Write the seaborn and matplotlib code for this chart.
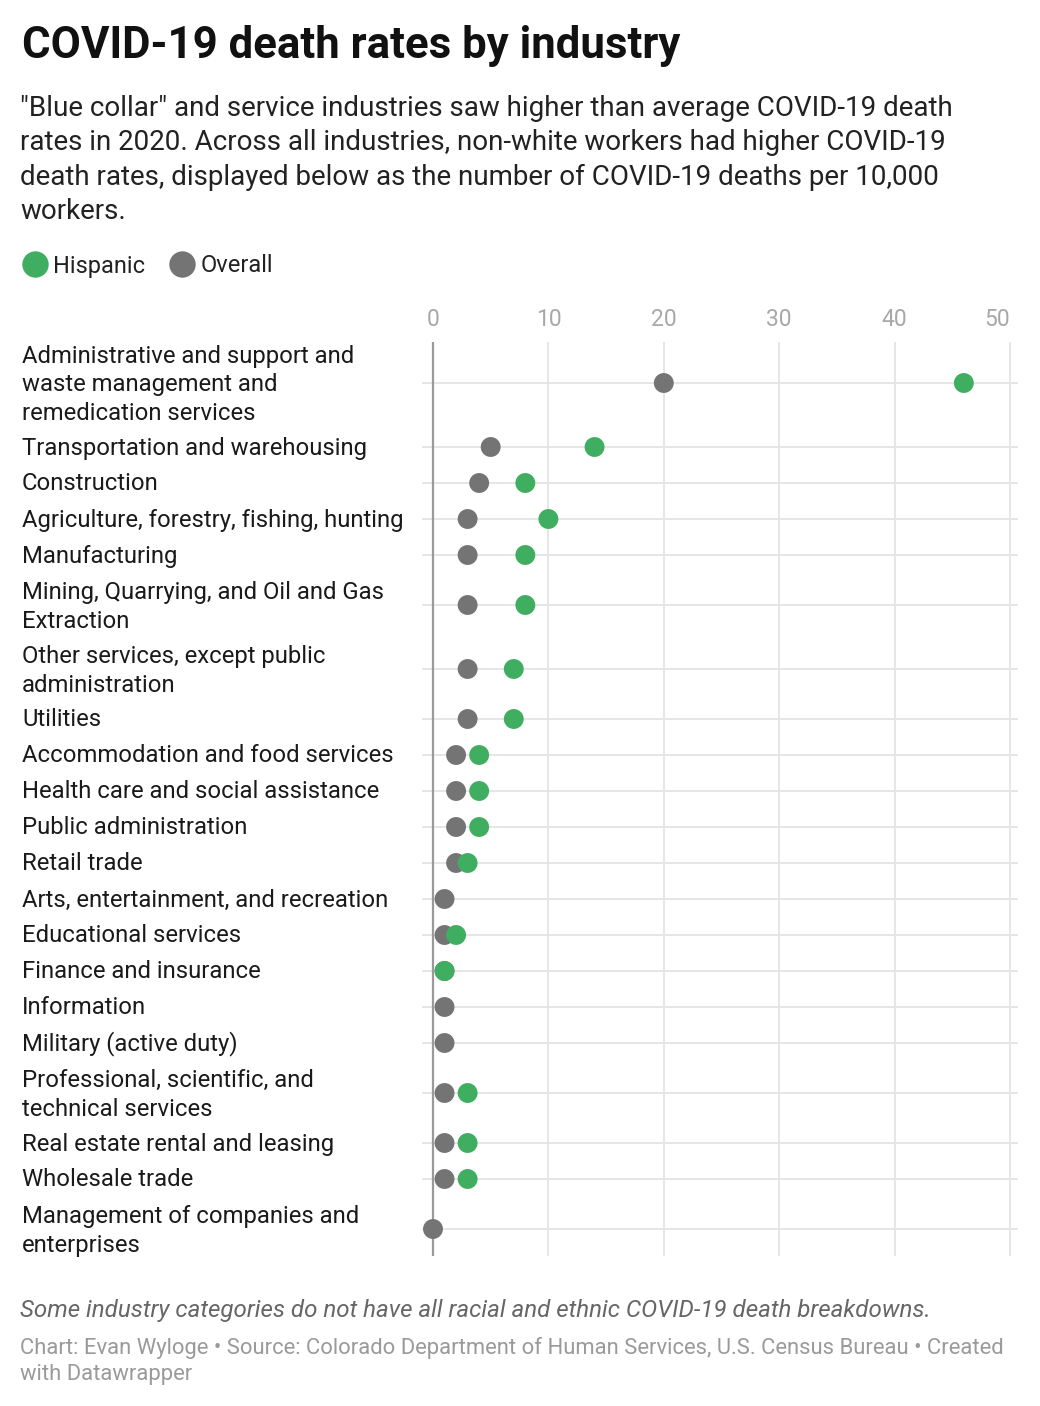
import numpy as np
import pandas as pd
import matplotlib
matplotlib.use("Agg")
import matplotlib.pyplot as plt
import seaborn as sns

# ---------------------------------------------------
# Datos
# ---------------------------------------------------
industries = [
    "Administrative and support and\nwaste management and\nremedication services",
    "Transportation and warehousing",
    "Construction",
    "Agriculture, forestry, fishing, hunting",
    "Manufacturing",
    "Mining, Quarrying, and Oil and Gas\nExtraction",
    "Other services, except public\nadministration",
    "Utilities",
    "Accommodation and food services",
    "Health care and social assistance",
    "Public administration",
    "Retail trade",
    "Arts, entertainment, and recreation",
    "Educational services",
    "Finance and insurance",
    "Information",
    "Military (active duty)",
    "Professional, scientific, and\ntechnical services",
    "Real estate rental and leasing",
    "Wholesale trade",
    "Management of companies and\nenterprises",
]
overall = [20, 5, 4, 3, 3, 3, 3, 3, 2, 2, 2, 2, 1, 1, 1, 1, 1, 1, 1, 1, 0]
hispanic = [46, 14, 8, 10, 8, 8, 7, 7, 4, 4, 4, 3, np.nan, 2, 1,
            np.nan, np.nan, 3, 3, 3, np.nan]
groups = ["Hispanic", "Overall"]
x_ticks = [0, 10, 20, 30, 40, 50]

GREEN = "#3fae60"
GRAY = "#747474"

# ---------------------------------------------------
# Posición vertical de cada fila según el número de líneas de la etiqueta
# ---------------------------------------------------
n_lines = [s.count("\n") + 1 for s in industries]
heights = [36 + 28 * (n - 1) for n in n_lines]
tops = np.cumsum([0] + heights[:-1])
centers = tops + np.array(heights) / 2

# formato largo: primero Overall para que Hispanic quede encima
df = pd.concat([
    pd.DataFrame({"industry": industries, "pos": centers, "rate": overall, "group": "Overall"}),
    pd.DataFrame({"industry": industries, "pos": centers, "rate": hispanic, "group": "Hispanic"}),
], ignore_index=True).dropna()

sns.set_theme(style="white")
plt.rcParams["font.family"] = ["Roboto", "DejaVu Sans"]

W, H = 1040, 1406
fig = plt.figure(figsize=(W / 100, H / 100), dpi=100)
ax = fig.add_axes([422 / W, 1 - 1256 / H, (1018 - 422) / W, (1256 - 342) / H])

x0, x50 = 433, 1010
ppu = (x50 - x0) / 50
ax.set_xlim((422 - x0) / ppu, (1018 - x0) / ppu)
ax.set_ylim(1256 - 337, 342 - 337)

# cuadrícula
for c in centers:
    ax.axhline(c, color="#e6e6e6", lw=1.4, zorder=0)
for t in x_ticks[1:]:
    ax.axvline(t, color="#e6e6e6", lw=1.4, zorder=0)
ax.axvline(0, color="#9a9a9a", lw=1.6, zorder=1)

sns.scatterplot(data=df, x="rate", y="pos", hue="group", hue_order=groups,
                palette={"Hispanic": GREEN, "Overall": GRAY},
                s=205, linewidth=0, alpha=1, ax=ax, zorder=3, legend=False)

for sp in ax.spines.values():
    sp.set_visible(False)

ax.set_xlabel("")
ax.set_ylabel("")
ax.xaxis.tick_top()
ax.set_xticks(x_ticks)
ax.set_xticklabels([str(t) for t in x_ticks])
ax.tick_params(axis="x", length=0, pad=8, labelsize=16.5, labelcolor="#a8a8a8")
ax.get_xticklabels()[-1].set_horizontalalignment("right")
ax.get_xticklabels()[-1].set_x(50.8)

# etiquetas de las industrias, alineadas a la izquierda
ax.set_yticks(centers)
ax.set_yticklabels([])
ax.tick_params(axis="y", length=0)
lab_tr = matplotlib.transforms.blended_transform_factory(fig.transFigure, ax.transData)
for name, c, n in zip(industries, centers, n_lines):
    ax.text(22 / W, c + (2 if n > 1 else 1), name, transform=lab_tr, ha="left", va="center",
            fontsize=17.2, color="#1a1a1a", linespacing=1.31, clip_on=False)

# títulos
fig.text(22 / W, 1 - 46 / H, "COVID-19 death rates by industry", fontsize=31.5,
         fontweight="bold", color="#111111", va="center", ha="left")
subtitle = ('"Blue collar" and service industries saw higher than average COVID-19 death\n'
            'rates in 2020. Across all industries, non-white workers had higher COVID-19\n'
            'death rates, displayed below as the number of COVID-19 deaths per 10,000\n'
            'workers.')
fig.text(20 / W, 1 - 160 / H, subtitle, fontsize=20, color="#222222",
         va="center", ha="left", linespacing=1.34)

# leyenda
handles = [plt.Line2D([], [], marker="o", ls="", markersize=19, markerfacecolor=c,
                      markeredgewidth=0) for c in (GREEN, GRAY)]
fig.legend(handles, groups, loc="center left", bbox_to_anchor=(-2 / W, 1 - 266 / H),
           ncol=2, frameon=False, fontsize=17, handletextpad=0.15, columnspacing=0.9,
           handlelength=1.3, labelcolor="#222222")

# notas
fig.text(20 / W, 1 - 1311 / H,
         "Some industry categories do not have all racial and ethnic COVID-19 death breakdowns.",
         fontsize=17.4, style="italic", color="#666666", va="center", ha="left")
fig.text(20 / W, 1 - 1361 / H,
         "Chart: Evan Wyloge \u2022 Source: Colorado Department of Human Services, U.S. Census Bureau \u2022 Created\nwith Datawrapper",
         fontsize=15.8, color="#9a9a9a", va="center", ha="left", linespacing=1.3)

fig.savefig("out.png", dpi=100)
